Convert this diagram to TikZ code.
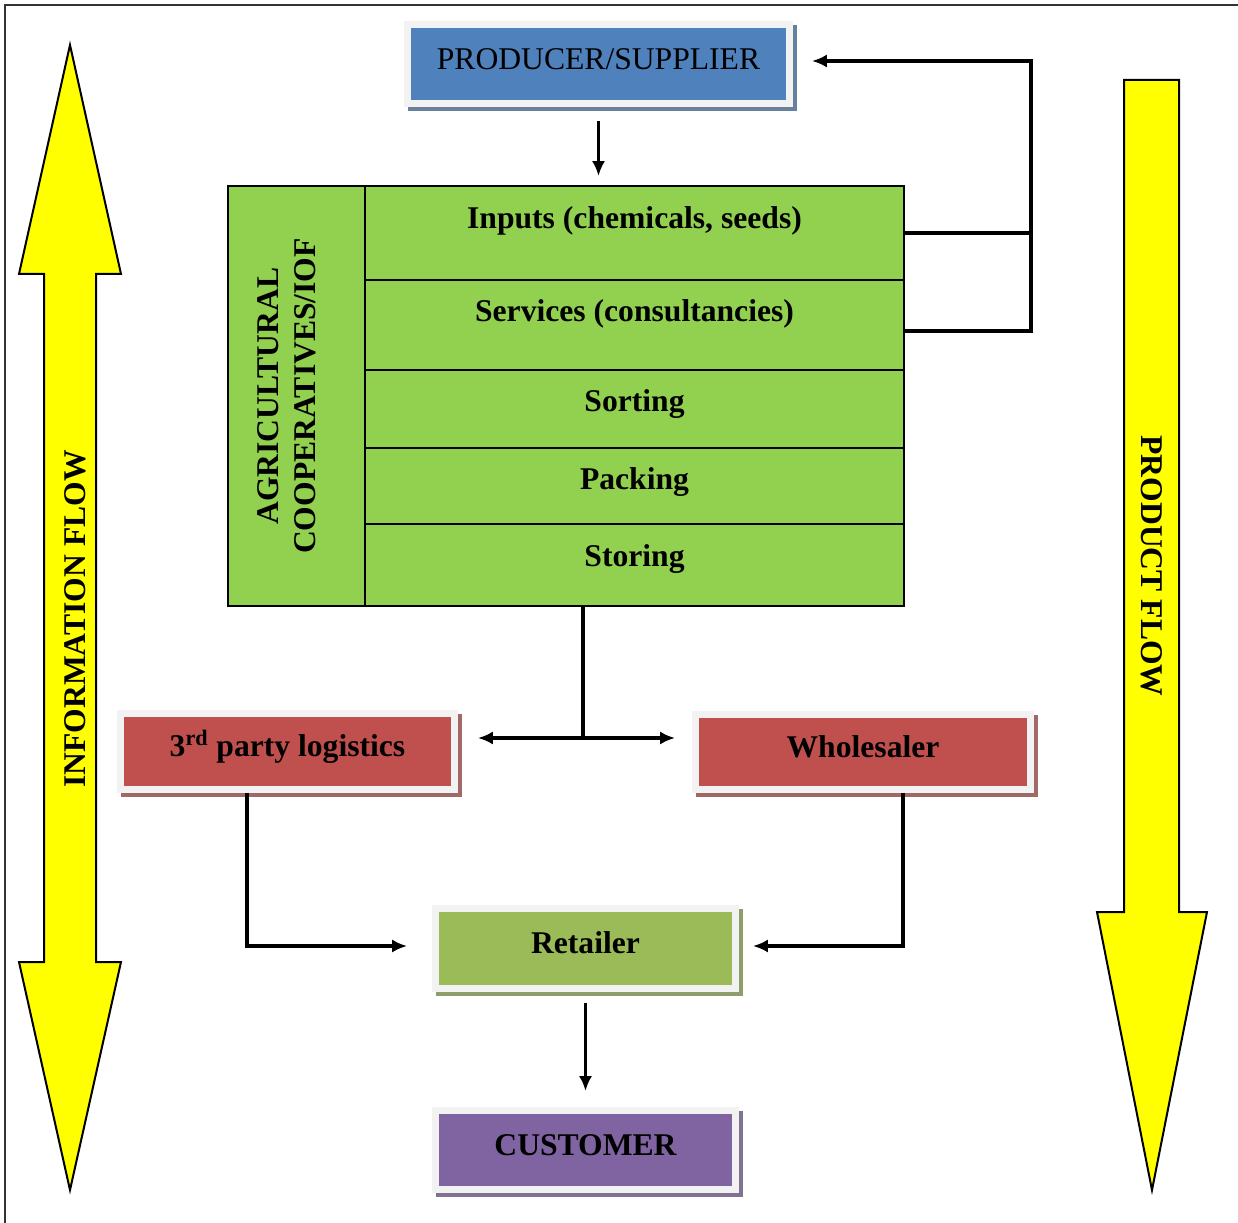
\documentclass[tikz,border=0pt]{standalone}
\usepackage{fontspec}
\setmainfont{Liberation Serif}
\usetikzlibrary{arrows.meta,positioning}
\definecolor{prodblue}{HTML}{4F81BD}
\definecolor{boxred}{HTML}{C0504D}
\definecolor{retgreen}{HTML}{9BBB59}
\definecolor{custpurple}{HTML}{8064A2}
\definecolor{coopgreen}{HTML}{92D050}
\definecolor{rim}{HTML}{F2F2F2}
\definecolor{flowyellow}{HTML}{FFFF00}

\begin{document}
\begin{tikzpicture}[x=0.02cm,y=-0.02cm,>={Latex[length=8.5pt,width=7.5pt]},
    font=\fontsize{18}{21}\selectfont,
    bold/.style={font=\fontsize{18}{21}\selectfont\bfseries},
    flowbox/.style={fill=#1,draw=rim,line width=0.14cm,inner sep=0pt,
        text height=13pt,text depth=7pt,
        minimum width=6cm,minimum height=1.52cm,
        preaction={draw=#1!50!gray,fill=#1!50!gray,
            transform canvas={xshift=0.08cm,yshift=-0.08cm}}},
    coopcell/.style={draw,line width=0.04cm,fill=coopgreen,inner sep=0pt,
        outer sep=0pt,minimum width=10.78cm},
    rowtext/.style={bold,anchor=base},
    flowarrow/.style={draw,line width=0.04cm,fill=flowyellow,line join=miter},
    link/.style={line width=2pt}]
    \useasboundingbox (0,0) rectangle (1238,1223);
    \draw[line width=0.04cm,black!80] (5,1240) -- (5,5) -- (1250,5);

    \draw[flowarrow] (70,45) -- (121,274) -- (96,274) -- (96,962) -- (121,962)
        -- (70,1190) -- (19,962) -- (44,962) -- (44,274) -- (19,274) -- cycle;
    \node[bold,rotate=90] (infolabel) at (75,619) {INFORMATION FLOW};
    \draw[flowarrow] (1124,80) -- (1179,80) -- (1179,912) -- (1207,912)
        -- (1152,1190) -- (1097,912) -- (1124,912) -- cycle;
    \node[bold,rotate=-90] (prodlabel) at (1152,566) {PRODUCT FLOW};

    \node[flowbox=prodblue,minimum width=7.64cm,minimum height=1.58cm] (producer) at (598.5,64) {PRODUCER/SUPPLIER};

    \node[coopcell,minimum width=2.74cm,minimum height=8.4cm] (coopname) at (296.5,396) {};
    \node[bold,rotate=90,align=center] (cooplabel) at ([xshift=-0.2cm]coopname.center) {AGRICULTURAL\\COOPERATIVES/IOF};
    \node[coopcell,minimum height=1.88cm] (inputs) at (634.5,233) {};
    \node[coopcell,minimum height=1.8cm,below=0pt of inputs] (services) {};
    \node[coopcell,minimum height=1.56cm,below=0pt of services] (sorting) {};
    \node[coopcell,minimum height=1.52cm,below=0pt of sorting] (packing) {};
    \node[coopcell,minimum height=1.64cm,below=0pt of packing] (storing) {};
    \node[rowtext] (inputstext) at ([yshift=-0.84cm]inputs.north) {Inputs (chemicals, seeds)};
    \node[rowtext] (servicestext) at ([yshift=-0.84cm]services.north) {Services (consultancies)};
    \node[rowtext] (sortingtext) at ([yshift=-0.84cm]sorting.north) {Sorting};
    \node[rowtext] (packingtext) at ([yshift=-0.84cm]packing.north) {Packing};
    \node[rowtext] (storingtext) at ([yshift=-0.86cm]storing.north) {Storing};

    \node[flowbox=boxred,bold,minimum width=6.68cm] (third) at (287.5,751.5) {3\textsuperscript{rd} party logistics};
    \node[flowbox=boxred,bold,minimum width=6.7cm] (wholesaler) at (863,752) {Wholesaler};
    \node[flowbox=retgreen,bold,minimum height=1.6cm] (retailer) at (585.5,948.5) {Retailer};
    \node[flowbox=custpurple,bold,minimum height=1.58cm] (customer) at (585.5,1150) {CUSTOMER};

    \coordinate (loop) at (1031,61);
    \coordinate (split) at (583,738);
    \coordinate (leftbend) at (247,946);
    \coordinate (rightbend) at (903,946);

    \draw[link,->,shorten <=0.28cm,shorten >=0.2cm] (producer) -- (producer |- inputs.north);
    \draw[link] (inputs.east) -- (inputs.east -| loop);
    \draw[link,->,shorten >=0.38cm] ([yshift=-0.12cm]services.east) -| (loop) -- (loop -| producer.east);
    \draw[link] (storing.south -| split) -- (split);
    \draw[link,->,shorten >=0.4cm] (split) -- (split -| third.east);
    \draw[link,->,shorten >=0.34cm] (split) -- (split -| wholesaler.west);
    \draw[link,->,shorten >=0.5cm] (third.south -| leftbend) -- (leftbend) -- (leftbend -| retailer.west);
    \draw[link,->,shorten >=0.28cm] (wholesaler.south -| rightbend) -- (rightbend) -- (rightbend -| retailer.east);
    \draw[link,->,shorten <=0.22cm,shorten >=0.32cm] (retailer) -- (customer);
\end{tikzpicture}
\end{document}
